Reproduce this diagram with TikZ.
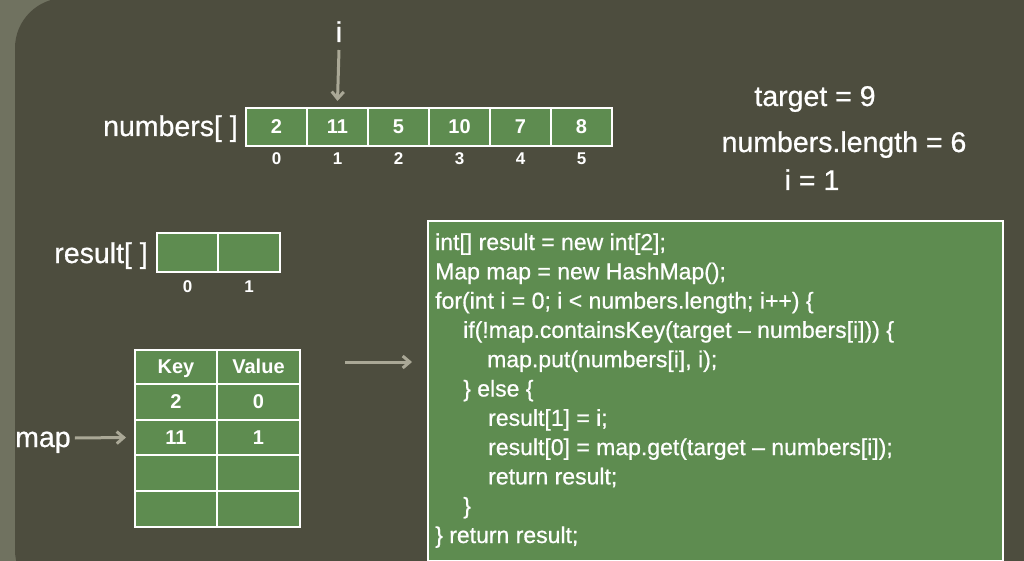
\documentclass[tikz,border=0pt]{standalone}
\usepackage{fontspec}
\setmainfont{Liberation Sans}
\newfontfamily\heavyfont[FakeBold=0.7,Ligatures=TeX]{Liberation Sans}
\usetikzlibrary{arrows.meta}
\definecolor{bgdark}{RGB}{77,77,62}
\definecolor{bgframe}{RGB}{112,114,96}
\definecolor{cellgreen}{RGB}{94,140,80}
\definecolor{arrowgray}{RGB}{170,168,150}
\tikzset{
  cell/.style={draw=white, line width=2pt, fill=cellgreen, inner sep=0pt, text=white,
    text height=14pt, text depth=0pt, font=\fontsize{20}{22}\selectfont\bfseries},
  label/.style={text=white, inner sep=0pt, font=\heavyfont\fontsize{28.5}{31}\selectfont},
  idx/.style={text=white, inner sep=0pt, font=\fontsize{17}{19}\selectfont\bfseries},
  codeline/.style={text=white, inner sep=0pt, anchor=base west, font=\heavyfont\fontsize{23}{26}\selectfont},
  pointer/.style={draw=arrowgray, line width=3pt, -{Straight Barb[length=7pt,width=12pt,line width=3pt]}}
}
\begin{document}
\begin{tikzpicture}[x=1pt,y=-1pt]
\useasboundingbox (0,0) rectangle (1024,561);
\fill[bgframe] (0,0) rectangle (1024,561);
\fill[bgdark, rounded corners=50pt] (15,-2) rectangle (1060,600);
% numbers array
\foreach \v [count=\k from 0] in {2,11,5,10,7,8} {
  \node[cell, minimum width=61pt, minimum height=38pt] (n\k) at (276.5+61*\k,127) {\v};
  \node[idx, anchor=base] (ni\k) at (276.5+61*\k,165) {\k};
}
\node[label, anchor=base east] (numlbl) at (238,136) {numbers[ ]};
% i pointer
\node[label, anchor=base] (ilbl) at (339,42) {i};
\coordinate (itop) at (339,50);
\draw[pointer] (itop) -- (n1.north |- 0,101);
% right-hand values
\node[label, anchor=base] (tgt) at (815,106) {target = 9};
\node[label, anchor=base] (nlen) at (844,152) {numbers.length = 6};
\node[label, anchor=base] (ival) at (812,190) {i = 1};
% result array
\node[cell, minimum width=61pt, minimum height=39pt] (r0) at (187.5,252.5) {};
\node[cell, minimum width=62pt, minimum height=39pt] (r1) at (249,252.5) {};
\node[idx, anchor=base] (ri0) at (187.5,292) {0};
\node[idx, anchor=base] (ri1) at (249,292) {1};
\node[label, anchor=base east] (reslbl) at (148,263) {result[ ]};
% map table
\node[cell, minimum width=82pt, minimum height=34pt] (mk0) at (176,366.5) {Key};
\node[cell, minimum width=83pt, minimum height=34pt] (mv0) at (258.5,366.5) {Value};
\node[cell, minimum width=82pt, minimum height=36pt] (mk1) at (176,401.5) {2};
\node[cell, minimum width=83pt, minimum height=36pt] (mv1) at (258.5,401.5) {0};
\node[cell, minimum width=82pt, minimum height=35pt] (mk2) at (176,437.5) {11};
\node[cell, minimum width=83pt, minimum height=35pt] (mv2) at (258.5,437.5) {1};
\node[cell, minimum width=82pt, minimum height=36pt] (mk3) at (176,473) {};
\node[cell, minimum width=83pt, minimum height=36pt] (mv3) at (258.5,473) {};
\node[cell, minimum width=82pt, minimum height=36pt] (mk4) at (176,509) {};
\node[cell, minimum width=83pt, minimum height=36pt] (mv4) at (258.5,509) {};
\node[label, anchor=base west] (maplbl) at (15,447) {map};
\draw[pointer] (maplbl.east |- 0,438) ++(4,0) -- ([xshift=-8pt]mk2.west);
% code box
\node[draw=white, line width=2pt, fill=cellgreen, minimum width=575pt, minimum height=340pt, inner sep=0pt] (code) at (715.5,391) {};
\coordinate (arrstart) at (345,362);
\draw[pointer] (arrstart) -- ([xshift=-15pt]code.west |- 0,362);
\node[codeline] (c1) at (435,250) {int[] result = new int[2];};
\node[codeline] (c2) at (435,279.3) {Map map = new HashMap();};
\node[codeline] (c3) at (435,308.6) {for(int i = 0; i < numbers.length; i++) \{};
\node[codeline] (c4) at (463,337.9) {if(!map.containsKey(target – numbers[i])) \{};
\node[codeline] (c5) at (487,367.2) {map.put(numbers[i], i);};
\node[codeline] (c6) at (463,396.5) {\} else \{};
\node[codeline] (c7) at (488,425.8) {result[1] = i;};
\node[codeline] (c8) at (488,455.1) {result[0] = map.get(target – numbers[i]);};
\node[codeline] (c9) at (488,484.4) {return result;};
\node[codeline] (c10) at (463,513.7) {\}};
\node[codeline] (c11) at (435,543) {\} return result;};
\end{tikzpicture}
\end{document}
